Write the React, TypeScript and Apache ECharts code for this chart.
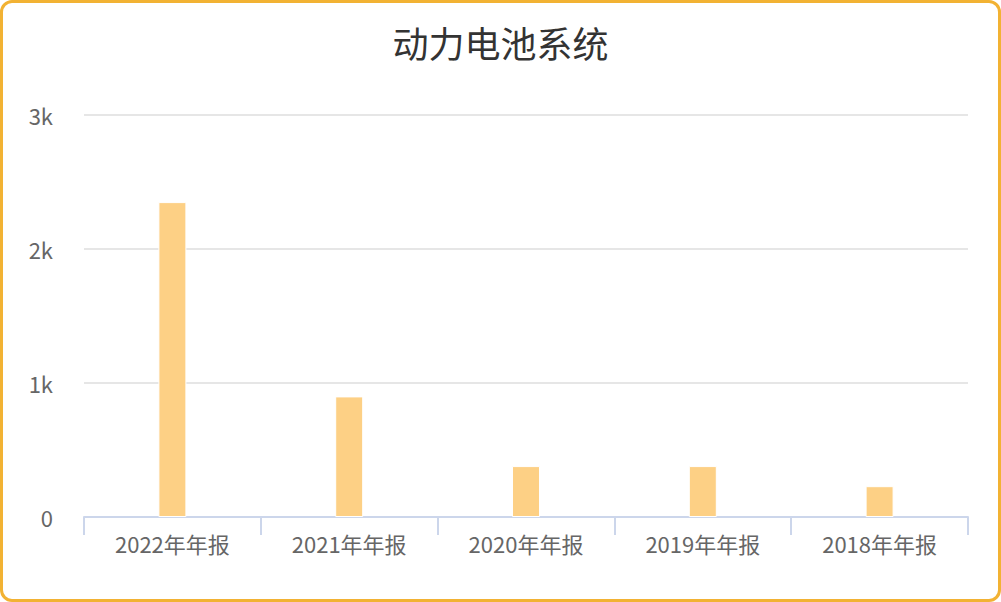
import React, { useEffect, useRef } from "react";
import * as echarts from "echarts";

const categories: string[] = ["2022年年报", "2021年年报", "2020年年报", "2019年年报", "2018年年报"];
const values: number[] = [2350, 900, 380, 380, 230];
const yTicks: number[] = [0, 1000, 2000, 3000];

const App: React.FC = () => {
  const chartRef = useRef<HTMLDivElement | null>(null);

  useEffect(() => {
    const chartDom = chartRef.current;
    if (!chartDom) return;
    const myChart = echarts.init(chartDom, undefined, { renderer: "svg" });

    const font = "'Noto Sans CJK SC', 'Open Sans', sans-serif";

    const option = {
      animation: false,
      backgroundColor: "transparent",
      title: {
        text: "动力电池系统",
        left: "center",
        top: 19,
        textStyle: {
          fontSize: 36,
          fontWeight: "normal",
          fontFamily: font,
          color: "#333333",
        },
      },
      grid: {
        left: 84,
        right: 33,
        top: 115,
        bottom: 85,
        containLabel: false,
      },
      xAxis: {
        type: "category",
        data: categories,
        axisLine: { lineStyle: { color: "#ccd6eb", width: 2 } },
        axisTick: {
          show: true,
          length: 18,
          alignWithLabel: false,
          lineStyle: { color: "#ccd6eb", width: 2 },
        },
        axisLabel: {
          fontSize: 22,
          color: "#666666",
          fontFamily: font,
          margin: 15,
        },
      },
      yAxis: {
        type: "value",
        min: yTicks[0],
        max: yTicks[yTicks.length - 1],
        interval: 1000,
        axisLine: { show: false },
        axisTick: { show: false },
        splitLine: { lineStyle: { color: "#e6e6e6", width: 2 } },
        axisLabel: {
          fontSize: 22,
          color: "#666666",
          fontFamily: font,
          margin: 31,
          formatter: (v: number) => (v === 0 ? "0" : `${v / 1000}k`),
        },
      },
      series: [
        {
          type: "bar",
          data: values,
          barWidth: 28,
          itemStyle: {
            color: "#fdd085",
            borderColor: "#ffffff",
            borderWidth: 1,
          },
        },
      ],
    };

    myChart.setOption(option);

    return () => {
      myChart.dispose();
    };
  }, []);

  return (
    <div
      style={{
        position: "fixed",
        top: 0,
        left: 0,
        width: 1001,
        height: 602,
        boxSizing: "border-box",
        border: "3px solid #f2b233",
        borderRadius: 12,
        background: "#ffffff",
        overflow: "hidden",
      }}
    >
      <div
        ref={chartRef}
        style={{
          position: "absolute",
          top: -3,
          left: -3,
          width: 1001,
          height: 602,
        }}
      />
    </div>
  );
};

export default App;
